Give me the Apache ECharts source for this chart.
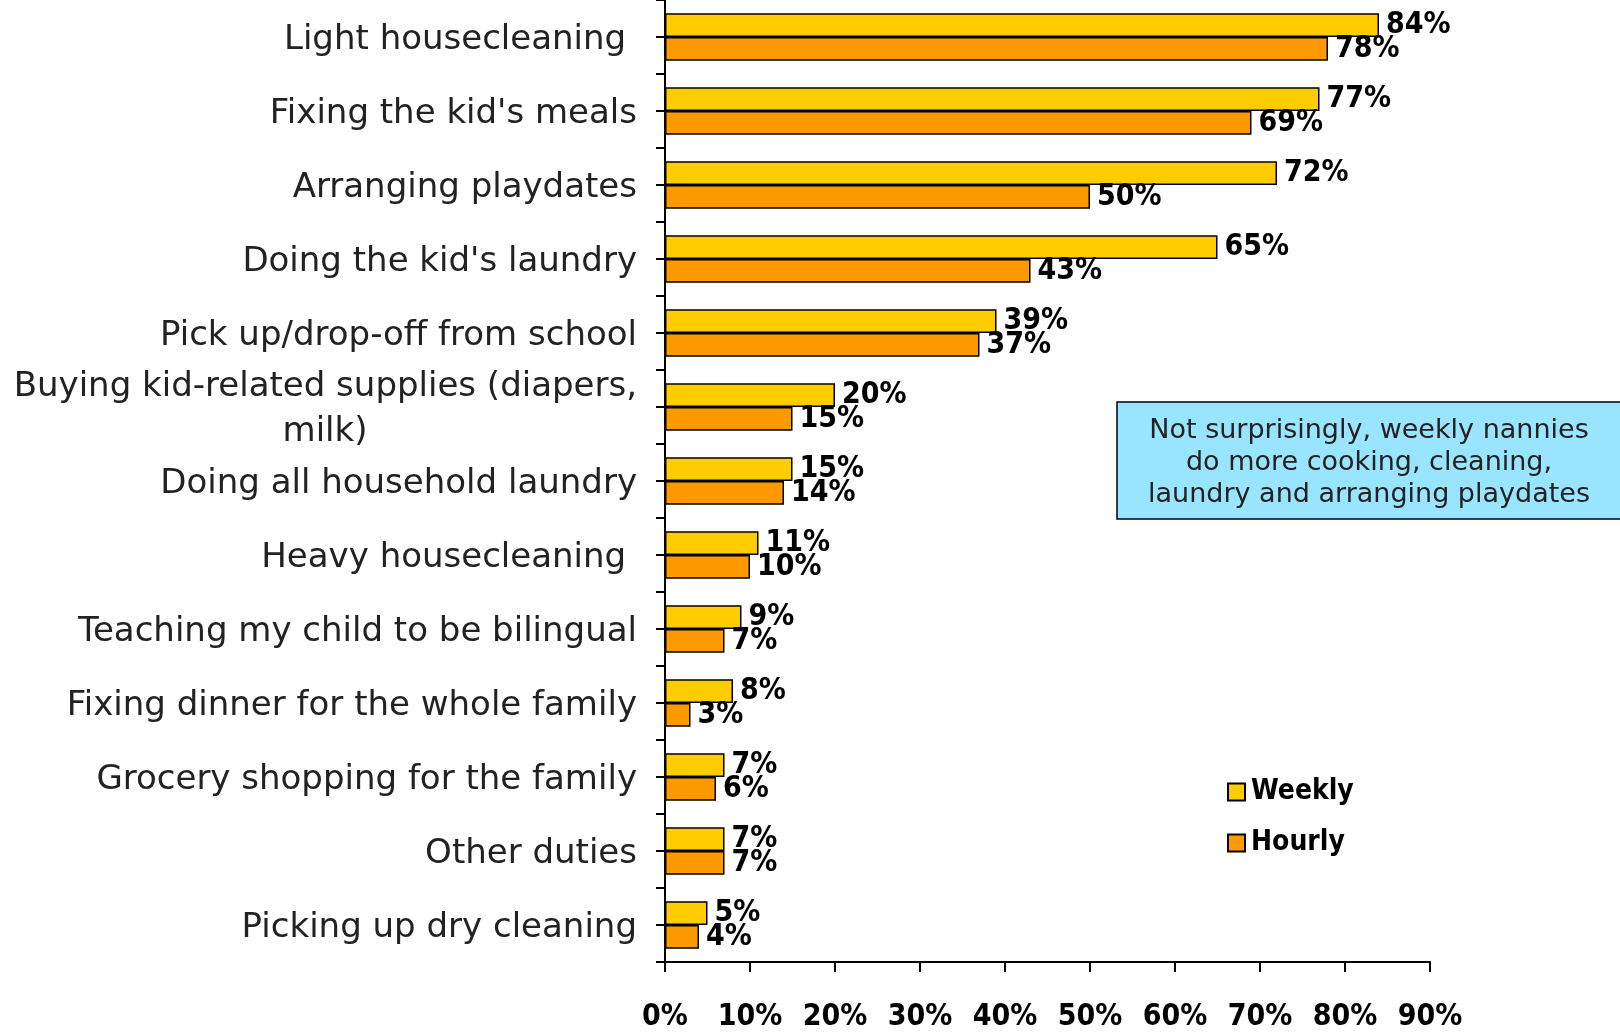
<!DOCTYPE html>
<html>
<head>
<meta charset="utf-8">
<script src="https://cdn.jsdelivr.net/npm/echarts@6/dist/echarts.min.js"></script>
<style>
html,body{margin:0;padding:0;background:#fff;}
#chart{width:1620px;height:1034px;}
</style>
</head>
<body>
<div id="chart"></div>
<script>
const categories = [
  'Light housecleaning ',
  "Fixing the kid's meals",
  'Arranging playdates',
  "Doing the kid's laundry",
  'Pick up/drop-off from school',
  'Buying kid-related supplies (diapers, milk)',
  'Doing all household laundry',
  'Heavy housecleaning ',
  'Teaching my child to be bilingual',
  'Fixing dinner for the whole family',
  'Grocery shopping for the family',
  'Other duties',
  'Picking up dry cleaning'
];
const weekly = [84, 77, 72, 65, 39, 20, 15, 11, 9, 8, 7, 7, 5];
const hourly = [78, 69, 50, 43, 37, 15, 14, 10, 7, 3, 6, 7, 4];
const seriesNames = ['Weekly', 'Hourly'];
const xTicks = [0, 10, 20, 30, 40, 50, 60, 70, 80, 90];
const noteLines = [
  'Not surprisingly, weekly nannies',
  'do more cooking, cleaning,',
  'laundry and arranging playdates'
];

const catFont = "'DejaVu Sans', sans-serif";
const catWeight = 'normal';
const catSize = 34;
const catColor = '#222';
const boldFont = "'Liberation Sans Narrow', 'DejaVu Sans Condensed', 'Arial Narrow', sans-serif";

const cv = document.createElement('canvas').getContext('2d');
cv.font = catWeight + ' ' + catSize + 'px ' + catFont;
const firstLine = 'Buying kid-related supplies (diapers,';
const firstW = Math.ceil(cv.measureText(firstLine).width);

const chart = echarts.init(document.getElementById('chart'));
const labelStyle = {
  show: true,
  position: 'right',
  distance: 7,
  formatter: '{c}%',
  fontFamily: boldFont,
  fontWeight: 'bold',
  fontSize: 30,
  color: '#000'
};
chart.setOption({
  animation: false,
  grid: { left: 665, right: 190, top: 0, bottom: 72, containLabel: false },
  legend: {
    orient: 'vertical',
    left: 1222,
    top: 770,
    itemWidth: 17,
    itemHeight: 17,
    itemGap: 17,
    icon: 'rect',
    data: seriesNames,
    textStyle: { fontFamily: boldFont, fontWeight: 'bold', fontSize: 28, color: '#000', lineHeight: 34, padding: [0, 0, 0, 1] }
  },
  xAxis: {
    type: 'value',
    min: xTicks[0],
    max: xTicks[xTicks.length - 1],
    interval: 10,
    splitLine: { show: false },
    axisLine: { show: true, lineStyle: { color: '#000', width: 2 } },
    axisTick: { show: true, length: 10, lineStyle: { color: '#000', width: 2 } },
    axisLabel: {
      margin: 40,
      formatter: '{value}%',
      fontFamily: boldFont, fontWeight: 'bold', fontSize: 30, color: '#000'
    }
  },
  yAxis: [{
    type: 'category',
    inverse: true,
    data: categories,
    axisLine: { show: true, lineStyle: { color: '#000', width: 2 } },
    axisTick: { show: true, length: 9, lineStyle: { color: '#000', width: 2 } },
    axisLabel: {
      margin: 28,
      padding: [6, 0, 0, 0],
      fontFamily: catFont,
      fontWeight: catWeight,
      fontSize: catSize,
      color: catColor,
      lineHeight: 45,
      formatter: function (v) {
        if (v.indexOf('(diapers, milk)') >= 0) {
          return firstLine + '\n{c|milk)}';
        }
        return v;
      },
      rich: {
        c: { width: firstW, align: 'center', fontFamily: catFont, fontWeight: catWeight, fontSize: catSize, color: catColor, lineHeight: 45 }
      }
    }
  }, {
    type: 'category',
    inverse: true,
    position: 'left',
    data: categories,
    axisLine: { show: false },
    axisTick: { show: true, alignWithLabel: true, length: 9, lineStyle: { color: '#000', width: 2 } },
    axisLabel: { show: false }
  }],
  series: [
    {
      name: seriesNames[0], type: 'bar', data: weekly,
      barGap: '0%', barCategoryGap: '36%',
      itemStyle: { color: '#FFCC00', borderColor: '#000', borderWidth: 1.5 },
      label: labelStyle
    },
    {
      name: seriesNames[1], type: 'bar', data: hourly,
      itemStyle: { color: '#FF9900', borderColor: '#000', borderWidth: 1.5 },
      label: labelStyle
    }
  ],
  graphic: [
    {
      type: 'rect',
      shape: { x: 1117, y: 402, width: 510, height: 117 },
      style: { fill: '#99E5FF', stroke: '#000', lineWidth: 1.5 }
    },
    {
      type: 'text', x: 1369, y: 415,
      style: {
        text: noteLines.join('\n'),
        font: 'normal 27px ' + catFont,
        fill: catColor,
        align: 'center',
        lineHeight: 32
      }
    }
  ]
});
</script>
</body>
</html>
